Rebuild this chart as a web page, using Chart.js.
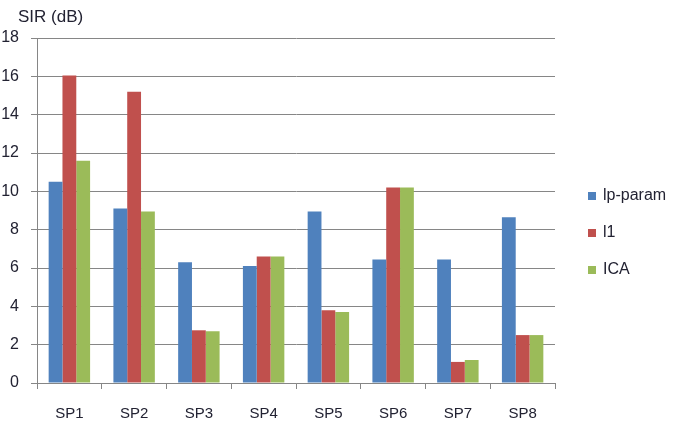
<!DOCTYPE html>
<html>
<head>
<meta charset="utf-8">
<script src="https://cdn.jsdelivr.net/npm/chart.js@4"></script>
<style>
  html, body { margin: 0; padding: 0; background: #fff; }
  #wrap { width: 691px; height: 431px; }
</style>
</head>
<body>
<div id="wrap"><canvas id="chart" width="691" height="431"></canvas></div>
<script>
// values
const categories = ['SP1', 'SP2', 'SP3', 'SP4', 'SP5', 'SP6', 'SP7', 'SP8'];
const lpParam = [10.5, 9.1, 6.3, 6.1, 8.95, 6.45, 6.45, 8.65];
const l1 = [16.05, 15.2, 2.75, 6.6, 3.8, 10.2, 1.1, 2.5];
const ica = [11.6, 8.95, 2.7, 6.6, 3.7, 10.2, 1.2, 2.5];
const yTicks = [0, 2, 4, 6, 8, 10, 12, 14, 16, 18];

const FONT = '"Liberation Sans", Arial, sans-serif';
const TEXT = '#222232';
const GRID = '#868686';

// legend + axis title drawn by hand so they sit where the original has them
const extras = {
    id: 'extras',
    afterDraw(chart) {
        const ctx = chart.ctx;
        ctx.save();
        ctx.fillStyle = TEXT;
        ctx.font = '17px ' + FONT;
        ctx.textBaseline = 'middle';
        ctx.textAlign = 'left';
        ctx.fillText('SIR (dB)', 18, 17);

        ctx.font = '16px ' + FONT;
        chart.data.datasets.forEach((ds, i) => {
            const y = 196 + i * 37;
            ctx.fillStyle = ds.backgroundColor;
            ctx.fillRect(588, y - 4, 8, 8);
            ctx.fillStyle = TEXT;
            ctx.fillText(ds.label, 603, y);
        });
        ctx.restore();
    }
};

new Chart(document.getElementById('chart'), {
    type: 'bar',
    data: {
        labels: categories,
        datasets: [
            { label: 'lp-param', data: lpParam, backgroundColor: '#4F81BD' },
            { label: 'l1', data: l1, backgroundColor: '#C0504D' },
            { label: 'ICA', data: ica, backgroundColor: '#9BBB59' }
        ]
    },
    options: {
        responsive: false,
        animation: false,
        layout: { padding: { top: 38, right: 136, bottom: 0, left: 0 } },
        datasets: { bar: { barPercentage: 1, categoryPercentage: 0.64 } },
        plugins: {
            legend: { display: false },
            title: { display: false },
            tooltip: { enabled: false }
        },
        scales: {
            x: {
                grid: { offset: true, drawOnChartArea: false, drawTicks: true, tickLength: 6, color: GRID },
                border: { color: GRID, width: 1 },
                ticks: { color: TEXT, font: { family: FONT, size: 15 }, padding: 16, maxRotation: 0 },
                afterFit(scale) { scale.height = 48; }
            },
            y: {
                min: 0,
                max: 18,
                afterBuildTicks(scale) { scale.ticks = yTicks.map(v => ({ value: v })); },
                grid: { color: GRID, tickLength: 6 },
                border: { color: GRID, width: 1 },
                ticks: { color: TEXT, font: { family: FONT, size: 16 }, padding: 12 },
                afterFit(scale) { scale.width = 37; }
            }
        }
    },
    plugins: [extras]
});
</script>
</body>
</html>
